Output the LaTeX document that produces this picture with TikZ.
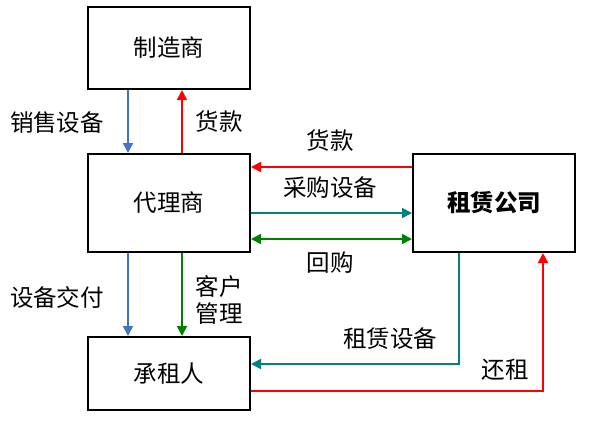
\documentclass[tikz,border=0pt]{standalone}
\usepackage{fontspec}
\setmainfont{Noto Sans CJK SC}
\usepackage{tikz}
\usetikzlibrary{arrows.meta}
\definecolor{azul}{HTML}{4472C4}
\definecolor{vermelho}{HTML}{FF0000}
\definecolor{petroleo}{HTML}{008080}
\definecolor{verde}{HTML}{008000}
\tikzset{
  caixa/.style={draw, line width=2pt, minimum width=162pt, inner sep=0pt},
  rotulo/.style={inner sep=0pt},
  fluxo/.style={line width=1.8pt, -{Triangle[length=10pt,width=10pt]}},
}

\begin{document}
\begin{tikzpicture}[x=1pt,y=-1pt,font=\fontsize{23.5}{27}\selectfont]
    \useasboundingbox (0,0) rectangle (590,421);
    % Caixas
    \node[caixa, minimum height=82pt] (fabricante) at (169,48) {制造商};
    \node[caixa, minimum height=98pt] (agente) at (169,203) {代理商};
    \node[caixa, minimum height=98pt] (locadora) at (494,203) {\bfseries 租赁公司};
    \node[caixa, minimum height=73pt] (locatario) at (169,373.5) {承租人};
    % Fabricante e agente
    \draw[fluxo, azul] ([xshift=-41pt]fabricante.south) -- ([xshift=-41pt]agente.north);
    \draw[fluxo, vermelho] ([xshift=13pt]agente.north) -- ([xshift=13pt]fabricante.south);
    \node[rotulo] (vendas) at (57,123) {销售设备};
    \node[rotulo] (pagtoA) at (219,122) {货款};
    % Agente e locadora
    \draw[fluxo, vermelho] ([yshift=36pt]locadora.west) -- ([yshift=36pt]agente.east);
    \draw[fluxo, petroleo] ([yshift=-10pt]agente.east) -- ([yshift=-10pt]locadora.west);
    \draw[fluxo, verde, {Triangle[length=10pt,width=10pt]}-{Triangle[length=10pt,width=10pt]}]
        ([yshift=-36pt]agente.east) -- ([yshift=-36pt]locadora.west);
    \node[rotulo] (pagtoB) at (330,141) {货款};
    \node[rotulo] (compra) at (330,188) {采购设备};
    \node[rotulo] (recompra) at (330,263) {回购};
    % Agente e locatario
    \draw[fluxo, azul] ([xshift=-41pt]agente.south) -- ([xshift=-41pt]locatario.north);
    \draw[fluxo, verde] ([xshift=13pt]agente.south) -- ([xshift=13pt]locatario.north);
    \node[rotulo] (entrega) at (57,297) {设备交付};
    \node[rotulo, align=left] (gestao) at (219,300) {客户\\管理};
    % Locadora e locatario
    \draw[fluxo, petroleo] ([xshift=-35pt]locadora.south) |- ([yshift=9.5pt]locatario.east);
    \draw[fluxo, vermelho] ([yshift=-17.5pt]locatario.east) -| ([xshift=49pt]locadora.south);
    \node[rotulo] (aluguel) at (390,339) {租赁设备};
    \node[rotulo] (renda) at (505,370) {还租};
\end{tikzpicture}
\end{document}
